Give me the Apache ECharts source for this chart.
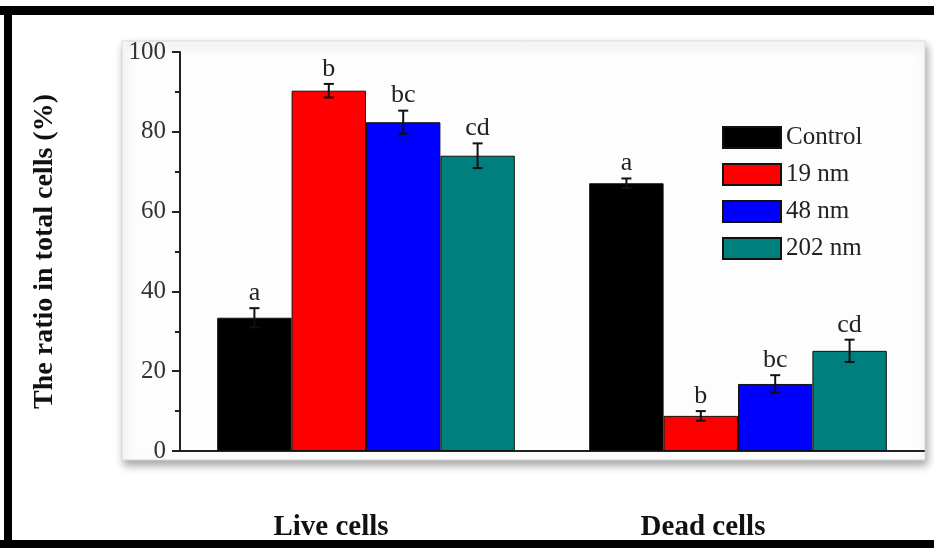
<!DOCTYPE html>
<html>
<head>
<meta charset="utf-8">
<script src="https://cdn.jsdelivr.net/npm/echarts@6/dist/echarts.min.js"></script>
<style>html,body{margin:0;padding:0;background:#fff;}#c{width:934px;height:548px;}</style>
</head>
<body>
<div id="c"></div>
<script>
var categories = ['Live cells', 'Dead cells'];
var seriesNames = ['Control', '19 nm', '48 nm', '202 nm'];
var control = [33.4, 67.1];
var nm19 = [90.3, 8.8];
var nm48 = [82.4, 16.8];
var nm202 = [74.0, 25.1];
var controlErr = [2.4, 1.2];
var nm19Err = [1.7, 1.2];
var nm48Err = [2.9, 2.2];
var nm202Err = [3.1, 2.8];
var controlLetters = ['a', 'a'];
var nm19Letters = ['b', 'b'];
var nm48Letters = ['bc', 'bc'];
var nm202Letters = ['cd', 'cd'];
var yTicks = [0, 20, 40, 60, 80, 100];

var colors = ['#000000', '#ff0000', '#0000ff', '#007f7f'];
var values = [control, nm19, nm48, nm202];
var errs = [controlErr, nm19Err, nm48Err, nm202Err];
var letters = [controlLetters, nm19Letters, nm48Letters, nm202Letters];
var GAP = 0.2;
var serif = '"Liberation Serif", "Times New Roman", serif';

var chart = echarts.init(document.getElementById('c'), null, {renderer: 'canvas'});

function errSeries(si) {
  return {
    type: 'custom',
    name: 'err' + si,
    z: 10,
    renderItem: function (params, api) {
      var ci = api.value(0), v = api.value(1), e = api.value(2);
      var c = api.coord([ci, v]);
      var band = api.size([1, 0])[0];
      var bw = band * (1 - GAP) / 4;
      var x = c[0] - band * (1 - GAP) / 2 + bw * (si + 0.5);
      var top = api.coord([ci, v + e])[1];
      var bot = api.coord([ci, v - e])[1];
      var cap = 5;
      var st = {stroke: '#111', lineWidth: 2};
      return {
        type: 'group',
        children: [
          {type: 'line', shape: {x1: x, y1: top, x2: x, y2: bot}, style: st},
          {type: 'line', shape: {x1: x - cap, y1: top, x2: x + cap, y2: top}, style: st},
          {type: 'line', shape: {x1: x - cap, y1: bot, x2: x + cap, y2: bot}, style: st},
          {type: 'text', style: {text: letters[si][params.dataIndex], x: x, y: top - 2,
            align: 'center', verticalAlign: 'bottom', fontSize: 26, fontFamily: serif, fill: '#222'}}
        ]
      };
    },
    data: values[si].map(function (v, i) { return [i, v, errs[si][i]]; })
  };
}

var series = [];
for (var i = 0; i < 4; i++) {
  series.push({
    type: 'bar',
    name: seriesNames[i],
    data: values[i],
    barGap: '0%',
    barCategoryGap: (GAP * 100) + '%',
    itemStyle: {color: colors[i], borderColor: '#111', borderWidth: 1}
  });
}
for (var j = 0; j < 4; j++) series.push(errSeries(j));

chart.setOption({
  backgroundColor: '#ffffff',
  animation: false,
  graphic: [
    {type: 'rect', z: -10, shape: {x: 122, y: 41, width: 803, height: 419},
      style: {fill: '#fdfdfd', stroke: '#d8d8d8', lineWidth: 1, shadowBlur: 8, shadowOffsetX: 2, shadowOffsetY: 5, shadowColor: 'rgba(0,0,0,0.35)'}},
    {type: 'rect', z: 100, shape: {x: 0, y: 6, width: 934, height: 9}, style: {fill: '#000'}},
    {type: 'rect', z: 100, shape: {x: 4, y: 6, width: 8, height: 542}, style: {fill: '#000'}},
    {type: 'rect', z: 100, shape: {x: 0, y: 540, width: 934, height: 8}, style: {fill: '#000'}}
  ],
  legend: {
    orient: 'vertical',
    left: 722,
    top: 125,
    padding: 0,
    itemWidth: 58,
    itemHeight: 21,
    itemGap: 12,
    icon: 'rect',
    data: seriesNames,
    textStyle: {fontSize: 25, fontFamily: serif, color: '#222', padding: [0, 0, 0, 0]},
    selectedMode: false
  },
  grid: {left: 180, right: 10, top: 52, bottom: 97, containLabel: false},
  xAxis: {
    type: 'category',
    data: categories,
    axisLine: {show: true, lineStyle: {color: '#222', width: 2}},
    axisTick: {show: false},
    axisLabel: {
      margin: 62,
      fontSize: 29,
      fontWeight: 'bold',
      fontFamily: serif,
      color: '#111',
      padding: [0, 70, 0, 0]
    }
  },
  yAxis: {
    type: 'value',
    min: 0,
    max: 100,
    interval: 20,
    name: 'The ratio in total cells (%)',
    nameLocation: 'middle',
    nameRotate: 90,
    nameGap: 121,
    nameTextStyle: {fontSize: 28, fontWeight: 'bold', fontFamily: serif, color: '#111'},
    axisLine: {show: true, lineStyle: {color: '#222', width: 2}},
    axisTick: {show: true, length: 8, lineStyle: {color: '#222', width: 2}},
    minorTick: {show: true, splitNumber: 2, length: 5, lineStyle: {color: '#222', width: 2}},
    splitLine: {show: false},
    axisLabel: {
      margin: 14,
      fontSize: 25,
      fontFamily: serif,
      color: '#333',
      formatter: function (v) { return yTicks.indexOf(v) >= 0 ? String(v) : ''; }
    }
  },
  series: series
});
</script>
</body>
</html>
